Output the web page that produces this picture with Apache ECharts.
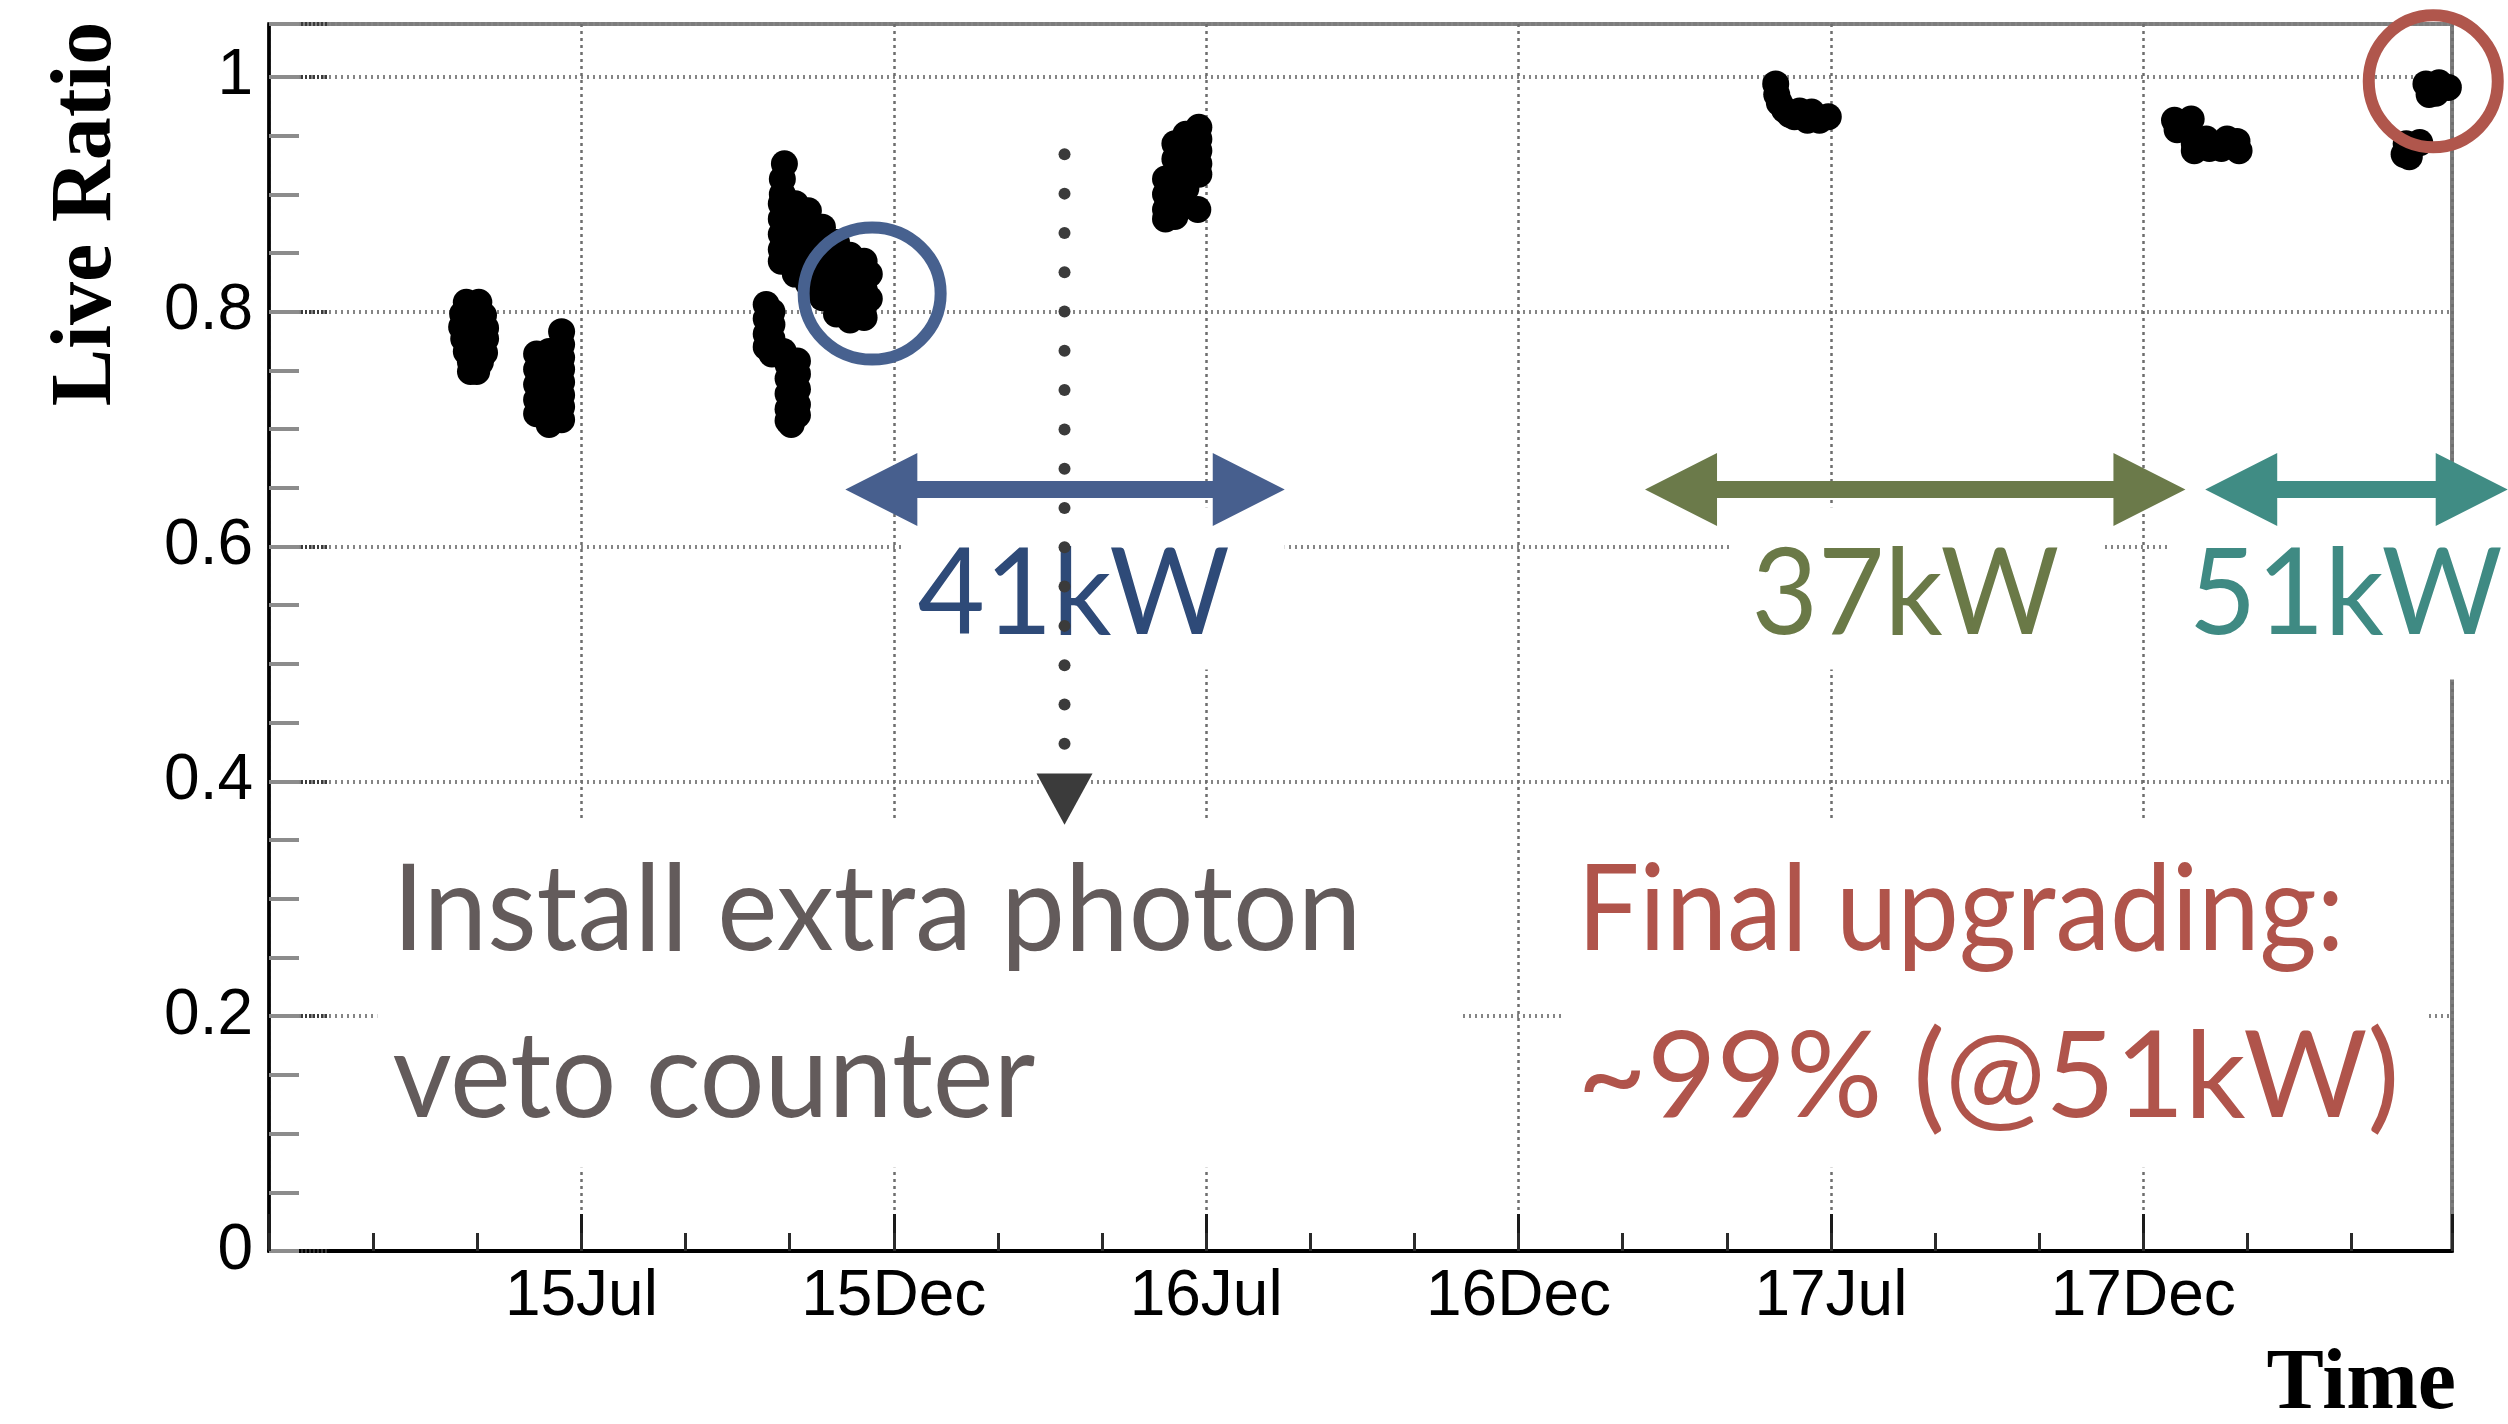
<!DOCTYPE html>
<html>
<head>
<meta charset="utf-8">
<script src="https://cdn.jsdelivr.net/npm/echarts@6/dist/echarts.min.js"></script>
<style>
  html, body { margin: 0; padding: 0; background: #fff; }
  #chart { width: 2508px; height: 1424px; }
</style>
</head>
<body>
<div id="chart"></div>
<script>
// Time axis runs in months counted from 1 Jan 2015.
const xTickMonths = [6, 12, 18, 24, 30, 36];
const xTickLabels = ['15Jul', '15Dec', '16Jul', '16Dec', '17Jul', '17Dec'];
const yTickValues = [0, 0.2, 0.4, 0.6, 0.8, 1];
const yTickLabels = ['0', '0.2', '0.4', '0.6', '0.8', '1'];

// Live ratio of the DAQ per run, grouped by beam period (month, ratio).
const run1Month = [3.79, 4.03, 3.72, 3.95, 4.12, 3.70, 3.93, 4.16, 3.74, 3.97, 4.16, 3.79, 4.03, 4.14, 3.87, 4.06, 3.87, 3.99];
const run1Ratio = [0.808, 0.808, 0.798, 0.798, 0.797, 0.787, 0.788, 0.786, 0.777, 0.776, 0.777, 0.766, 0.767, 0.765, 0.757, 0.757, 0.749, 0.749];

const run2Month = [5.62, 5.62, 5.62, 5.62, 5.62, 5.62, 5.62, 5.62, 5.38, 5.38, 5.38, 5.38, 5.38, 5.38, 5.14, 5.14, 5.14, 5.14, 5.14];
const run2Ratio = [0.783, 0.772, 0.761, 0.751, 0.740, 0.729, 0.719, 0.708, 0.766, 0.755, 0.742, 0.729, 0.716, 0.704, 0.764, 0.751, 0.738, 0.725, 0.713];

const run3Month = [
  9.90, 9.86, 9.86,
  9.84, 9.84, 9.84, 9.84, 9.84,
  10.11, 10.11, 10.11, 10.11, 10.11, 10.11,
  10.36, 10.36, 10.36, 10.36, 10.36, 10.36,
  10.63, 10.63, 10.63, 10.63, 10.63, 10.63,
  10.90, 10.90, 10.90, 10.90, 10.90, 10.90,
  11.16, 11.16, 11.16, 11.16, 11.16, 11.16,
  11.43, 11.43, 11.43, 11.43, 11.43,
  11.53, 11.53,
  9.55, 9.55, 9.55, 9.55, 9.66, 9.66, 9.66, 9.66,
  9.88, 9.97, 9.97, 9.97, 9.97, 9.97,
  10.15, 10.15, 10.15, 10.15, 10.15, 10.03
];
const run3Ratio = [
  0.926, 0.913, 0.900,
  0.892, 0.879, 0.866, 0.853, 0.843,
  0.892, 0.879, 0.866, 0.853, 0.841, 0.832,
  0.886, 0.875, 0.862, 0.849, 0.836, 0.824,
  0.872, 0.859, 0.847, 0.834, 0.819, 0.812,
  0.859, 0.847, 0.834, 0.821, 0.808, 0.798,
  0.848, 0.836, 0.824, 0.811, 0.798, 0.793,
  0.843, 0.832, 0.819, 0.806, 0.795,
  0.832, 0.811,
  0.806, 0.794, 0.781, 0.770, 0.800, 0.789, 0.777, 0.764,
  0.766, 0.755, 0.743, 0.730, 0.717, 0.707,
  0.758, 0.747, 0.734, 0.721, 0.712, 0.704
];

const run4Month = [17.86, 17.86, 17.86, 17.86, 17.86, 17.61, 17.61, 17.61, 17.61, 17.61, 17.40, 17.40, 17.40, 17.40, 17.40, 17.40, 17.22, 17.22, 17.22, 17.22, 17.84];
const run4Ratio = [0.957, 0.947, 0.937, 0.926, 0.917, 0.951, 0.939, 0.926, 0.915, 0.905, 0.943, 0.930, 0.917, 0.905, 0.892, 0.881, 0.913, 0.900, 0.887, 0.879, 0.887];

const run5Month = [28.94, 28.96, 29.01, 29.11, 29.21, 29.30, 29.40, 29.55, 29.63, 29.78, 29.95];
const run5Ratio = [0.994, 0.985, 0.978, 0.972, 0.968, 0.966, 0.971, 0.963, 0.970, 0.963, 0.966];

const run6Month = [36.60, 36.92, 36.65, 36.88, 36.98, 36.98, 37.21, 37.27, 37.50, 37.61, 37.80, 37.84];
const run6Ratio = [0.963, 0.964, 0.955, 0.954, 0.943, 0.937, 0.947, 0.939, 0.939, 0.947, 0.945, 0.937];

const run7Month = [41.43, 41.68, 41.86, 41.49, 41.62, 41.05, 41.31, 41.11, 41.01];
const run7Ratio = [0.994, 0.995, 0.991, 0.985, 0.986, 0.943, 0.944, 0.932, 0.934];

const runs = [
  [run1Month, run1Ratio], [run2Month, run2Ratio], [run3Month, run3Ratio],
  [run4Month, run4Ratio], [run5Month, run5Ratio], [run6Month, run6Ratio],
  [run7Month, run7Ratio]
];

const X_MAX = 41.93;
const Y_MAX = 1.045;

const chart = echarts.init(document.getElementById('chart'), null, { renderer: 'canvas' });

const labelFont = 'Liberation Sans';

chart.setOption({
  animation: false,
  backgroundColor: '#ffffff',
  grid: {
    left: 269, right: 56, top: 24, bottom: 173,
    containLabel: false, outerBoundsMode: 'none',
    show: true, borderColor: '#7d7d7d', borderWidth: 4, backgroundColor: 'transparent'
  },
  xAxis: [
    {
      type: 'value', min: 0, max: X_MAX, interval: 6, position: 'bottom',
      axisLine: { show: true, onZero: false, lineStyle: { color: '#000', width: 4 } },
      axisTick: { show: true, inside: true, length: 37, lineStyle: { color: '#1a1a1a', width: 3 } },
      axisLabel: {
        show: true, margin: 14, fontFamily: labelFont, fontSize: 64, color: '#000',
        formatter: v => {
          const i = xTickMonths.findIndex(t => Math.abs(t - v) < 1e-6);
          return i < 0 ? '' : xTickLabels[i];
        }
      },
      splitLine: { show: true, lineStyle: { color: '#6e6e6e', width: 2.5, type: [3, 4] } }
    },
    {
      // minor ticks every two months
      type: 'value', min: 0, max: X_MAX, interval: 2, position: 'bottom',
      axisLine: { show: false },
      axisTick: { show: true, inside: true, length: 18, lineStyle: { color: '#2a2a2a', width: 3 } },
      axisLabel: { show: false },
      splitLine: { show: false }
    }
  ],
  yAxis: [
    {
      type: 'value', min: 0, max: Y_MAX, interval: 0.2, position: 'left',
      axisLine: { show: true, onZero: false, lineStyle: { color: '#000', width: 3.5 } },
      axisTick: { show: true, inside: true, length: 60, lineStyle: { color: '#3a3a3a', width: 4, type: [2, 2] } },
      axisLabel: {
        show: true, margin: 16, fontFamily: labelFont, fontSize: 64, color: '#000',
        formatter: v => {
          const i = yTickValues.findIndex(t => Math.abs(t - v) < 1e-6);
          return i < 0 ? '' : yTickLabels[i];
        }
      },
      splitLine: { show: true, lineStyle: { color: '#858585', width: 4, type: [2, 4] } }
    },
    {
      // minor ticks every 0.05
      type: 'value', min: 0, max: Y_MAX, interval: 0.05, position: 'left',
      axisLine: { show: false },
      axisTick: { show: true, inside: true, length: 30, lineStyle: { color: '#8c8c8c', width: 4 } },
      axisLabel: { show: false },
      splitLine: { show: false }
    }
  ],
  series: runs.map(([months, ratios]) => ({
    type: 'scatter',
    xAxisIndex: 0, yAxisIndex: 0,
    clip: false, silent: true,
    symbol: 'circle', symbolSize: 27,
    itemStyle: { color: '#000', opacity: 1 },
    z: 5,
    data: months.map((m, i) => [m, ratios[i]])
  }))
});

// ---- annotations, placed in data coordinates ----
const toPx = p => chart.convertToPixel({ gridIndex: 0 }, p);

// white panels behind the annotation text
const textPanels = [
  [12.16, 0.6334, 19.51, 0.4953],
  [28.05, 0.6334, 35.23, 0.4953],
  [36.53, 0.6334, 42.98, 0.4868],
  [2.08, 0.3674, 22.91, 0.0708],
  [24.83, 0.3674, 41.47, 0.0708]
];

// beam power periods
const powerPeriods = [
  { from: 11.07, to: 19.51, label: '41kW', labelAt: 15.455, squeeze: 0.97, arrow: '#475f8e', text: '#2e4a78' },
  { from: 26.43, to: 36.81, label: '37kW', labelAt: 31.43, squeeze: 0.955, arrow: '#6b7a4a', text: '#6a7947' },
  { from: 37.19, to: 43.0, label: '51kW', labelAt: 39.89, squeeze: 0.975, arrow: '#408c84', text: '#3f8a83' }
];
const arrowLevel = 0.6485;
const powerLabelLevel = 0.5588;

const notes = [
  { lines: ['Install extra photon', 'veto counter'], squeeze: [0.951, 0.957], at: 2.37, color: '#635b5b' },
  { lines: ['Final upgrading:', '~99% (@51kW)'], squeeze: [0.917, 1.0], at: 25.13, color: '#b0544b' }
];
const noteLevels = [0.2890, 0.1475];

const highlights = [
  { at: [11.585, 0.8154], rx: 68.5, ry: 66, color: '#47618f' },
  { at: [41.57, 0.9962], rx: 64.5, ry: 66, color: '#b0564c' }
];

// counter installation marker
const installMonth = 15.28;
const installDots = { top: 0.934, bottom: 0.432, count: 16 };
const installHead = { top: 0.4066, tip: 0.363 };

function buildAnnotations() {
  const els = [];

  textPanels.forEach(([m1, v1, m2, v2]) => {
    const a = toPx([m1, v1]), b = toPx([m2, v2]);
    els.push({
      type: 'rect', z: 20, silent: true,
      shape: { x: a[0], y: a[1], width: b[0] - a[0], height: b[1] - a[1] },
      style: { fill: '#ffffff' }
    });
  });

  const headLen = 72, headHalf = 36.5, shaftHalf = 8.5;
  powerPeriods.forEach(p => {
    const a = toPx([p.from, arrowLevel]), b = toPx([p.to, arrowLevel]);
    const y = a[1], x1 = a[0], x2 = b[0];
    els.push({
      type: 'polygon', z: 22, silent: true,
      shape: {
        points: [
          [x1, y], [x1 + headLen, y - headHalf], [x1 + headLen, y - shaftHalf],
          [x2 - headLen, y - shaftHalf], [x2 - headLen, y - headHalf], [x2, y],
          [x2 - headLen, y + headHalf], [x2 - headLen, y + shaftHalf],
          [x1 + headLen, y + shaftHalf], [x1 + headLen, y + headHalf]
        ]
      },
      style: { fill: p.arrow }
    });
    const c = toPx([p.labelAt, powerLabelLevel]);
    els.push({
      type: 'text', z: 23, silent: true, x: c[0], y: c[1], scaleX: p.squeeze,
      style: {
        text: p.label, fill: p.text, font: '120px Lato',
        align: 'center', verticalAlign: 'middle'
      }
    });
  });

  notes.forEach(n => {
    n.lines.forEach((line, i) => {
      const c = toPx([n.at, noteLevels[i]]);
      els.push({
        type: 'text', z: 23, silent: true, x: c[0], y: c[1], scaleX: n.squeeze[i],
        style: {
          text: line, fill: n.color, font: '120px Lato',
          align: 'left', verticalAlign: 'middle'
        }
      });
    });
  });

  highlights.forEach(h => {
    const c = toPx(h.at);
    els.push({
      type: 'ellipse', z: 24, silent: true,
      shape: { cx: c[0], cy: c[1], rx: h.rx, ry: h.ry },
      style: { fill: 'none', stroke: h.color, lineWidth: 12 }
    });
  });

  const t = toPx([installMonth, installDots.top]);
  const btm = toPx([installMonth, installDots.bottom]);
  const step = (btm[1] - t[1]) / (installDots.count - 1);
  for (let i = 0; i < installDots.count; i++) {
    els.push({
      type: 'circle', z: 25, silent: true,
      shape: { cx: t[0], cy: t[1] + i * step, r: 6 },
      style: { fill: '#3b3b3b' }
    });
  }
  const ht = toPx([installMonth, installHead.top]);
  const hp = toPx([installMonth, installHead.tip]);
  els.push({
    type: 'polygon', z: 25, silent: true,
    shape: { points: [[ht[0] - 28, ht[1]], [ht[0] + 28, ht[1]], [hp[0], hp[1]]] },
    style: { fill: '#3b3b3b' }
  });

  // axis titles
  els.push({
    type: 'text', z: 26, silent: true, x: 88, y: 214, rotation: Math.PI / 2,
    style: {
      text: 'Live Ratio', fill: '#000', font: 'bold 86px "Liberation Serif"',
      align: 'center', verticalAlign: 'middle'
    }
  });
  els.push({
    type: 'text', z: 26, silent: true, x: 2456, y: 1386,
    style: {
      text: 'Time', fill: '#000', font: 'bold 86px "Liberation Serif"',
      align: 'right', verticalAlign: 'middle'
    }
  });

  return els;
}

chart.setOption({ graphic: { elements: buildAnnotations() } });
</script>
</body>
</html>
